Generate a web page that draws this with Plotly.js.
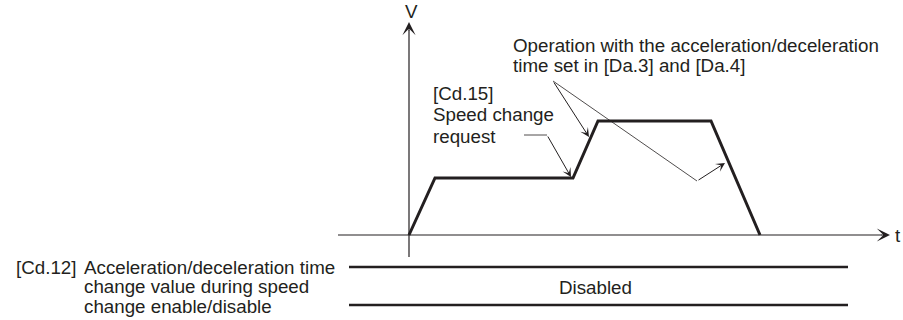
<!DOCTYPE html>
<html>
<head>
<meta charset="utf-8">
<script src="https://cdn.plot.ly/plotly-3.0.1.min.js"></script>
<style>
  html, body { margin: 0; padding: 0; background: #fff; }
  #wykres { width: 903px; height: 320px; }
</style>
</head>
<body>
<div id="wykres"></div>
<script>
// speed profile (t, V)
const czas = [0, 26, 164, 189, 302, 351];
const predkosc = [0, 57, 57, 114, 114, 0];

// axes ends
const osT = [-71, 481];
const osV = [-22, 213];

// status band [Cd.12]
const pasekT = [-60, 439];
const pasekV = [-32, -70];
const pasekTekst = 'Disabled';

// leader lines
const liniaZmianaT = [115, 138];
const liniaZmianaV = [100, 100];
const liniaOperacjaT = [144, 288];
const liniaOperacjaV = [154, 54];

// text lines
const tekstOperacja = ['Operation with the acceleration/deceleration', 'time set in [Da.3] and [Da.4]'];
const tekstZmiana = ['[Cd.15]', 'Speed change', 'request'];
const tekstCd12 = ['Acceleration/deceleration time', 'change value during speed', 'change enable/disable'];

const kolor = '#231f20';
const czcionka = {family: 'Liberation Sans, Arial, sans-serif', size: 18.75, color: kolor};

// helper for plain line traces
const linia = (x, y, grubosc) => {
  return {
    x: x,
    y: y,
    mode: 'lines',
    line: {color: kolor, width: grubosc},
    hoverinfo: 'skip',
    showlegend: false
  };
};

// helper for arrows
const strzalka = (x0, y0, x1, y1, rozmiar) => {
  return {
    x: x1, y: y1, ax: x0, ay: y0,
    xref: 'x', yref: 'y', axref: 'x', ayref: 'y',
    showarrow: true, arrowhead: 3, arrowwidth: 1, arrowsize: rozmiar,
    arrowcolor: kolor, standoff: 0, startstandoff: 0, text: ''
  };
};

// helper for text
const napis = (x, y, tekst, kotwica) => {
  return {
    x: x, y: y, xref: 'x', yref: 'y', text: tekst, showarrow: false,
    xanchor: kotwica, yanchor: 'middle', align: 'left', font: czcionka
  };
};

// one annotation per text line, so the spacing stays tight
const blok = (x, yStart, krok, linie) => {
  return linie.map((t, i) => napis(x, yStart - i * krok, t, 'left'));
};

const data = [
  linia([osT[0], osT[1] - 8], [0, 0], 1.2),
  linia([0, 0], [osV[0], osV[1] - 8], 1.2),
  linia(czas, predkosc, 3),
  linia(pasekT, [pasekV[0], pasekV[0]], 2.5),
  linia(pasekT, [pasekV[1], pasekV[1]], 2.5),
  linia(liniaZmianaT, liniaZmianaV, 0.8),
  linia(liniaOperacjaT, liniaOperacjaV, 0.8)
];

const annotations = [
  strzalka(osT[1] - 10, 0, osT[1], 0, 2.2),
  strzalka(0, osV[1] - 10, 0, osV[1], 2.2),
  strzalka(liniaZmianaT[1], liniaZmianaV[1], 162, 58, 1.5),
  strzalka(liniaOperacjaT[0], liniaOperacjaV[0], 180, 98, 1.5),
  strzalka(liniaOperacjaT[1], liniaOperacjaV[1], 316, 72, 1.5),
  napis(2, 224, 'V', 'center'),
  napis(484, 0, 't', 'left'),
  ...blok(102, 190, 20, tekstOperacja),
  ...blok(22, 142, 21.5, tekstZmiana),
  napis(-395, -32, '[Cd.12]', 'left'),
  ...blok(-327, -32, 19.5, tekstCd12),
  napis((pasekT[0] + pasekT[1]) / 2 - 3, -52, pasekTekst, 'center')
];

const layout = {
  width: 903,
  height: 320,
  margin: {l: 0, r: 0, t: 0, b: 0},
  paper_bgcolor: '#fff',
  plot_bgcolor: '#fff',
  showlegend: false,
  xaxis: {range: [-409, 494], visible: false, fixedrange: true},
  yaxis: {range: [-85, 235], visible: false, fixedrange: true},
  annotations: annotations
};

Plotly.newPlot('wykres', data, layout, {staticPlot: true, displayModeBar: false});
</script>
</body>
</html>
